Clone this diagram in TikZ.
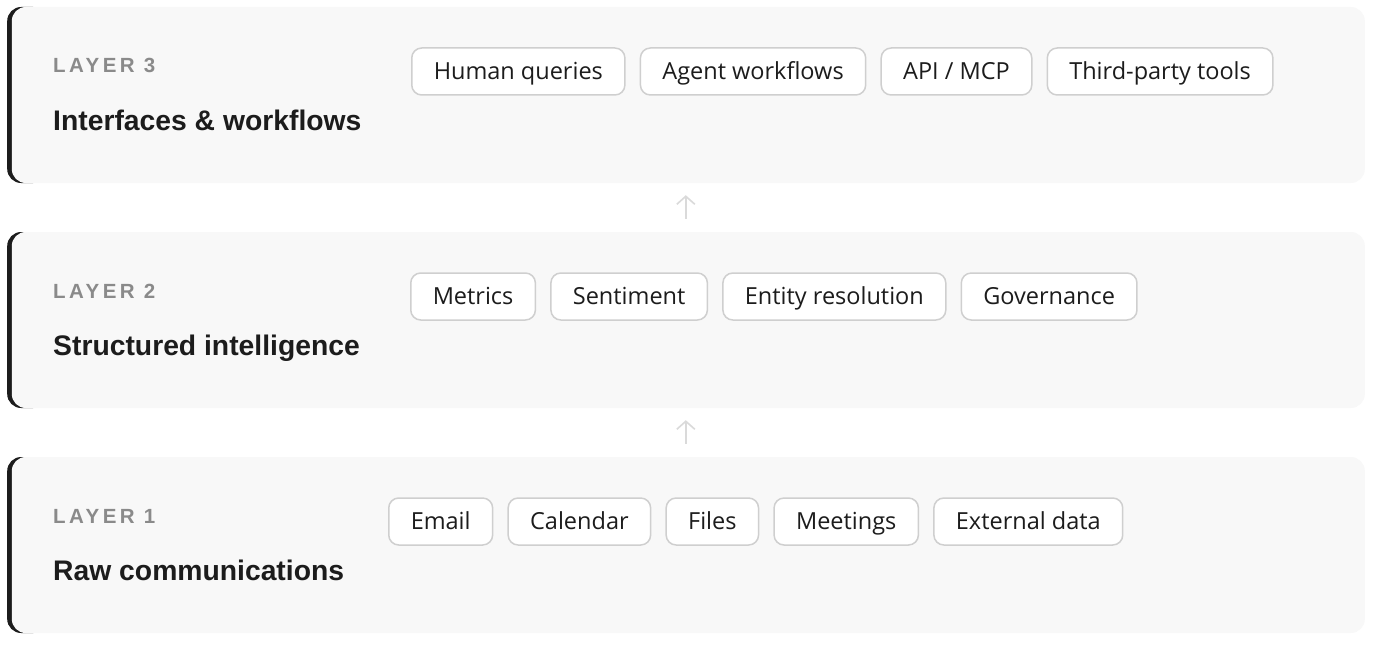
\documentclass[tikz,border=0pt]{standalone}
\usepackage{fontspec}
\setmainfont{Liberation Sans}
\newfontfamily\chipfont{Open Sans}
\usepackage{tikz}
\usetikzlibrary{positioning, arrows.meta, calc}

\definecolor{panelbg}{HTML}{F8F8F8}
\definecolor{barc}{HTML}{1C1C1C}
\definecolor{chipline}{HTML}{CFCFCF}
\definecolor{tagc}{HTML}{8A8A8A}
\definecolor{titlec}{HTML}{1C1C1C}
\definecolor{arrowc}{HTML}{DADADA}

\tikzset{
	barbox/.style={fill=barc, rounded corners=14pt, minimum width=40pt, minimum height=176pt, inner sep=0pt},
	panel/.style={fill=panelbg, rounded corners=14pt, minimum width=1353pt, minimum height=176pt, inner sep=0pt},
	layertag/.style={inner sep=0pt, text=tagc, font=\fontsize{20.5}{24}\selectfont\bfseries\addfontfeatures{LetterSpace=17}},
	layertitle/.style={inner sep=0pt, text=titlec, font=\fontsize{28.3}{32}\selectfont\bfseries},
	chip/.style={draw=chipline, line width=1.5pt, fill=white, rounded corners=10pt, minimum height=47pt, inner xsep=22pt, inner ysep=0pt, text height=19pt, text depth=3pt, text=titlec, font=\chipfont\fontsize{23.5}{28}\selectfont},
	uparrow/.style={draw=arrowc, line width=1.6pt, -{Straight Barb[length=8pt, width=18pt]}}
}

\begin{document}
\begin{tikzpicture}[x=1pt, y=-1pt]
				\useasboundingbox[fill=white] (0,0) rectangle (1380,650);
				
				% layer 3
				\node[barbox, anchor=west] (b3) at (7,95) {};
				\node[panel, anchor=east] (l3) at (1365,95) {};
				\node[layertag, anchor=base west] (t3) at (53,73) {LAYER 3};
				\node[layertitle, anchor=base west] (n3) at (53,130) {Interfaces \& workflows};
				\node[chip, anchor=west] (c31) at (411,71.5) {Human queries};
				\node[chip, right=14pt of c31] (c32) {Agent workflows};
				\node[chip, right=14pt of c32] (c33) {API / MCP};
				\node[chip, right=14pt of c33] (c34) {Third-party tools};
				
				% layer 2
				\node[barbox, anchor=west] (b2) at (7,320) {};
				\node[panel, anchor=east] (l2) at (1365,320) {};
				\node[layertag, anchor=base west] (t2) at (53,298) {LAYER 2};
				\node[layertitle, anchor=base west] (n2) at (53,355) {Structured intelligence};
				\node[chip, anchor=west] (c21) at (410,296.5) {Metrics};
				\node[chip, right=14pt of c21] (c22) {Sentiment};
				\node[chip, right=14pt of c22] (c23) {Entity resolution};
				\node[chip, right=14pt of c23] (c24) {Governance};
				
				% layer 1
				\node[barbox, anchor=west] (b1) at (7,545) {};
				\node[panel, anchor=east] (l1) at (1365,545) {};
				\node[layertag, anchor=base west] (t1) at (53,523) {LAYER 1};
				\node[layertitle, anchor=base west] (n1) at (53,580) {Raw communications};
				\node[chip, anchor=west] (c11) at (388,521.5) {Email};
				\node[chip, right=14pt of c11] (c12) {Calendar};
				\node[chip, right=14pt of c12] (c13) {Files};
				\node[chip, right=14pt of c13] (c14) {Meetings};
				\node[chip, right=14pt of c14] (c15) {External data};
				
				% arrows between layers
				\draw[uparrow, shorten <=13pt, shorten >=12pt] ([xshift=-2.5pt]l2.north) -- ([xshift=-2.5pt]l3.south);
				\draw[uparrow, shorten <=13pt, shorten >=12pt] ([xshift=-2.5pt]l1.north) -- ([xshift=-2.5pt]l2.south);
			\end{tikzpicture}
\end{document}
